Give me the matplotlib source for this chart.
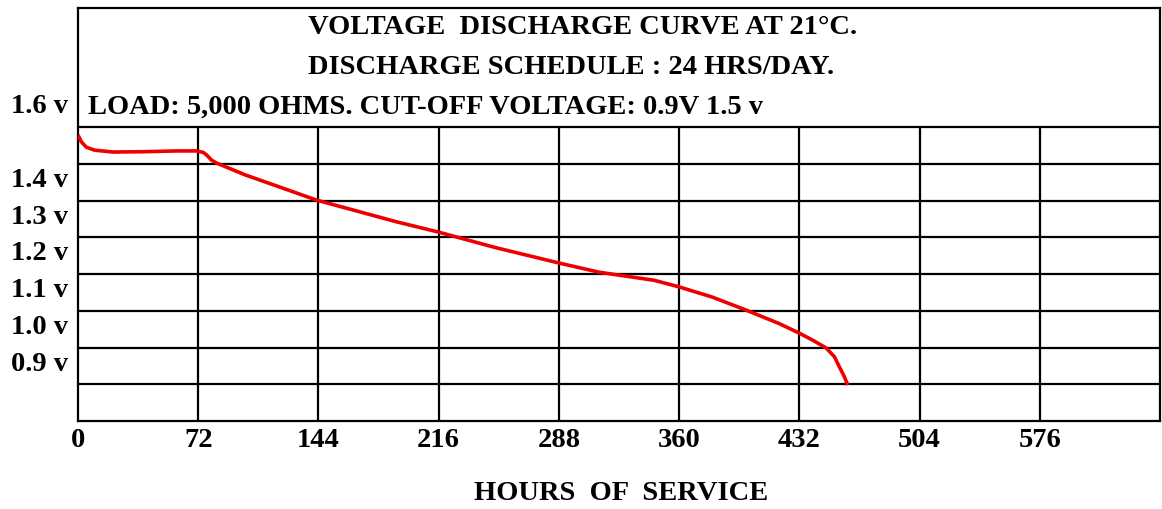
import numpy as np
import matplotlib
matplotlib.use("Agg")
import matplotlib.pyplot as plt

# values
hours = [0, 2, 5, 10, 21, 40, 59, 71, 75, 77, 80, 83, 100, 120, 143, 169, 190,
         216, 250, 288, 312, 324, 345, 360, 380, 400, 420, 432, 440, 448, 453,
         456, 459, 461]
volts = [1.578, 1.560, 1.545, 1.537, 1.532, 1.533, 1.535, 1.535, 1.531, 1.524,
         1.510, 1.502, 1.470, 1.438, 1.401, 1.369, 1.343, 1.314, 1.272, 1.230,
         1.205, 1.197, 1.183, 1.165, 1.137, 1.102, 1.065, 1.039, 1.020, 0.999,
         0.975, 0.947, 0.920, 0.898]

x_ticks = [0, 72, 144, 216, 288, 360, 432, 504, 576]
v_lines = [0.9, 1.0, 1.1, 1.2, 1.3, 1.4, 1.5, 1.6]
v_labels = {1.6: '1.6 v', 1.4: '1.4 v', 1.3: '1.3 v', 1.2: '1.2 v',
            1.1: '1.1 v', 1.0: '1.0 v', 0.9: '0.9 v'}
title_lines = ['VOLTAGE  DISCHARGE CURVE AT 21°C.',
               'DISCHARGE SCHEDULE : 24 HRS/DAY.']
load_line = 'LOAD: 5,000 OHMS. CUT-OFF VOLTAGE: 0.9V 1.5 v'

plt.rcParams['font.family'] = ['Liberation Serif', 'DejaVu Serif']
plt.rcParams['font.weight'] = 'bold'
FS = 20.5

W, H = 1162, 509
fig = plt.figure(figsize=(W / 100, H / 100), dpi=100)
ax = fig.add_axes([78 / W, (H - 421) / H, (1160 - 78) / W, (421 - 8) / H])
ax.set_xlim(0, 648)
ax.set_ylim(0.8, 1.924)

for s in ax.spines.values():
    s.set_linewidth(1.6)
    s.set_color('black')

# grid
for v in v_lines:
    ax.axhline(v, color='black', lw=1.6, zorder=1)
ax.vlines(x_ticks[1:], 0.8, 1.6, color='black', lw=1.6, zorder=1)

ax.plot(hours, volts, color='#ee0000', lw=2.6, zorder=3, solid_capstyle='butt')

ax.set_xticks(x_ticks)
ax.set_xticklabels([str(t) for t in x_ticks], fontsize=FS, fontweight='bold')
ax.tick_params(axis='x', length=0, pad=5)
ax.set_yticks([])

for v, lab in v_labels.items():
    ax.text(-0.009, v + 0.055, lab, transform=ax.get_yaxis_transform(),
            ha='right', va='center', fontsize=FS, fontweight='bold')

ax.text(137.5, 1.872, title_lines[0], ha='left', va='center', fontsize=FS, fontweight='bold')
ax.text(137.5, 1.763, title_lines[1], ha='left', va='center', fontsize=FS, fontweight='bold')
ax.text(6, 1.654, load_line, ha='left', va='center', fontsize=FS, fontweight='bold')

fig.text(621 / W, 1 - 493 / H, 'HOURS  OF  SERVICE', ha='center', va='center',
         fontsize=FS, fontweight='bold')

fig.savefig('out.png', dpi=100)
